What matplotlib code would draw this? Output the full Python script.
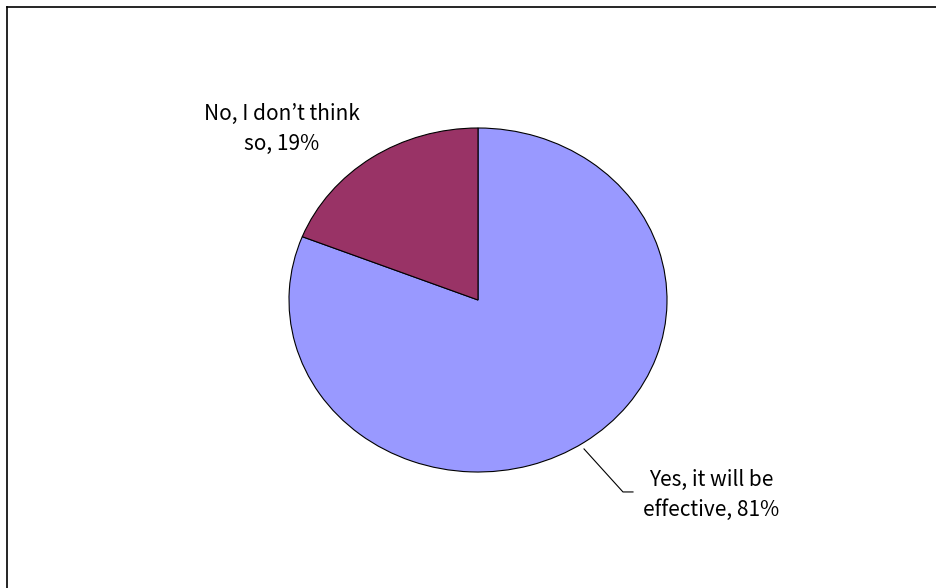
import matplotlib.pyplot as plt
from matplotlib.lines import Line2D

plt.rcParams['font.family'] = ['Noto Sans CJK JP', 'DejaVu Sans']

# data
labels = ["Yes, it will be\neffective, 81%", "No, I don\u2019t think\nso, 19%"]
values = [81, 19]
colors = ["#9999FF", "#993366"]

W, H = 937, 588
fig = plt.figure(figsize=(W / 100, H / 100), dpi=100)

# chart border (top and left visible, others clipped)
fig.add_artist(Line2D([7 / W, 7 / W], [0, 1 - 7 / H], color="black", lw=1.2))
fig.add_artist(Line2D([7 / W, 1], [1 - 7 / H, 1 - 7 / H], color="black", lw=1.2))

# pie area in pixels: x 289..667, y 128..472
ax = fig.add_axes([289 / W, (H - 472) / H, 378 / W, 344 / H])
ax.pie(values, colors=colors, startangle=90, counterclock=False,
       wedgeprops=dict(edgecolor="black", linewidth=0.8))
ax.set_aspect('auto')
ax.set_xlim(-1, 1)
ax.set_ylim(-1, 1)
ax.axis("off")

ax.text(1.233, -1.134, labels[0], ha="center", va="center", fontsize=15,
        linespacing=1.45, clip_on=False)
ax.text(-1.04, 0.994, labels[1], ha="center", va="center", fontsize=15,
        linespacing=1.45, clip_on=False)

# leader line for the big slice
ax.plot([0.561, 0.767, 0.82], [-0.866, -1.116, -1.116], color="black",
        lw=0.8, clip_on=False)

fig.savefig("out.png", dpi=100)
